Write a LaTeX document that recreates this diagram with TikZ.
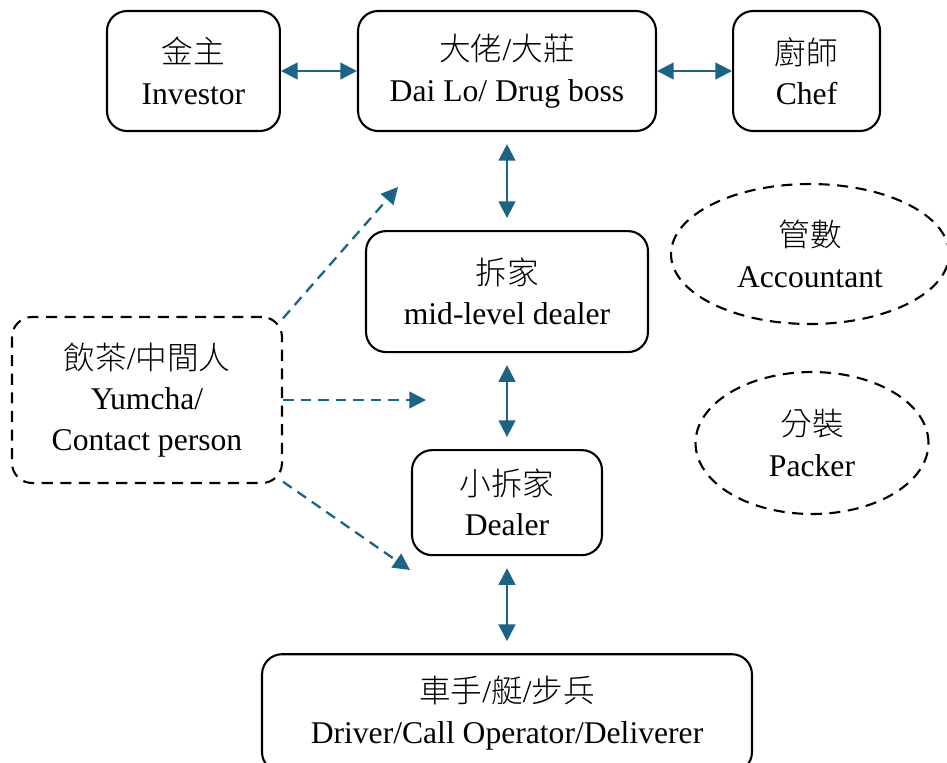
\documentclass[tikz,border=0pt]{standalone}
\usepackage{fontspec}
\setmainfont{Liberation Serif}
\newfontfamily\zhfont{Noto Sans CJK TC}[UprightFont={* Light}]
\newcommand{\zh}[1]{{\zhfont #1}}
\usetikzlibrary{positioning,shapes,arrows.meta}
\definecolor{linkblue}{RGB}{28,99,132}

\tikzset{
  role/.style={draw, line width=1.2pt, rounded corners=0.4cm, align=center, inner sep=0pt, font=\fontsize{18}{23}\selectfont},
  side/.style={role, dash pattern=on 6.3pt off 4.3pt},
  oval/.style={draw, ellipse, line width=1.2pt, dash pattern=on 6.3pt off 4.3pt, align=center, inner sep=0pt, font=\fontsize{18}{23}\selectfont},
  link/.style={linkblue, line width=1.3pt, {Triangle[length=9.5pt,width=9.5pt]}-{Triangle[length=9.5pt,width=9.5pt]}},
  hint/.style={linkblue, line width=1.3pt, dash pattern=on 6pt off 4pt, -{Triangle[length=9.5pt,width=9.5pt]}}
}

\begin{document}
\begin{tikzpicture}[x=0.02cm, y=-0.02cm]
        \useasboundingbox (0,0) rectangle (947,762);

        % top row
        \node[role, minimum width=5.96cm, minimum height=2.4cm] (dailo) at (507,71) {\zh{大佬}/\zh{大莊}\\Dai Lo/ Drug boss};
        \node[role, minimum width=3.46cm, minimum height=2.4cm, left=1.52cm of dailo] (investor) {\zh{金主}\\Investor};
        \node[role, minimum width=2.94cm, minimum height=2.4cm, right=1.5cm of dailo] (chef) {\zh{廚師}\\Chef};

        % chain down
        \node[role, minimum width=5.64cm, minimum height=2.42cm, below=1.96cm of dailo] (mid) {\zh{拆家}\\mid-level dealer};
        \node[role, minimum width=3.8cm, minimum height=2.1cm, below=1.92cm of mid] (dealer) {\zh{小拆家}\\Dealer};
        \node[role, minimum width=9.8cm, minimum height=2.36cm, below=1.94cm of dealer] (driver) {\zh{車手}/\zh{艇}/\zh{步兵}\\Driver/Call Operator/Deliverer};

        % side roles
        \node[side, minimum width=5.4cm, minimum height=3.32cm] (yumcha) at (147,400) {\zh{飲茶}/\zh{中間人}\\Yumcha/\\Contact person};
        \node[oval, minimum width=5.56cm, minimum height=2.8cm] (accountant) at (810,254) {\zh{管數}\\Accountant};
        \node[oval, minimum width=4.66cm, minimum height=2.84cm] (packer) at (812,443) {\zh{分裝}\\Packer};

        \coordinate (upto) at (398,187);
        \coordinate (midto) at (426,400);
        \coordinate (downto) at (410,570);

        \draw[link] (investor) -- (dailo);
        \draw[link] (dailo) -- (chef);
        \draw[link, shorten <=0.24cm, shorten >=0.24cm] (dailo) -- (mid);
        \draw[link, shorten <=0.24cm, shorten >=0.24cm] (mid) -- (dealer);
        \draw[link, shorten <=0.24cm, shorten >=0.24cm] (dealer) -- (driver);

        \draw[hint] (yumcha.31) -- (upto);
        \draw[hint] (yumcha.east) -- (midto);
        \draw[hint] (yumcha.-31) -- (downto);
    \end{tikzpicture}
\end{document}
